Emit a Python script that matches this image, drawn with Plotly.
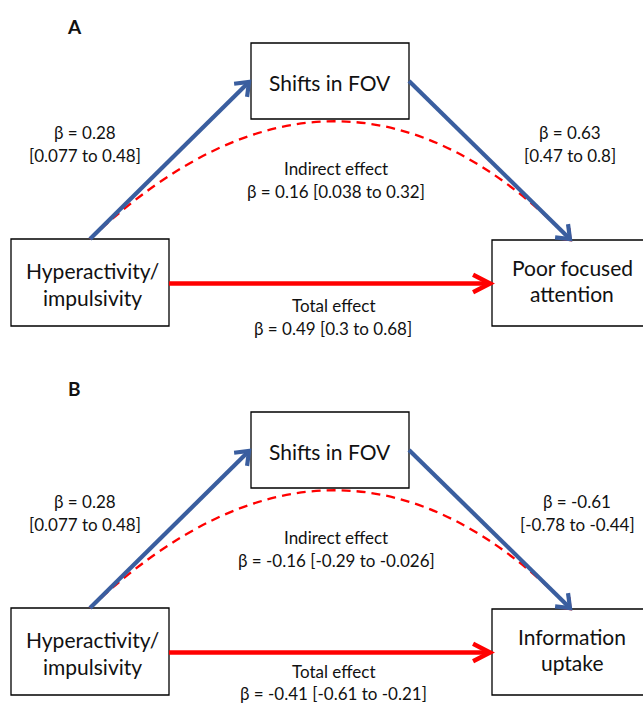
import math
import plotly.graph_objects as go

# Mediation estimates for the two models
panels = ["A", "B"]
predictor = ["Hyperactivity/", "impulsivity"]
mediator = ["Shifts in FOV"]
outcomes = [["Poor focused", "attention"], ["Information", "uptake"]]

a_beta = [0.28, 0.28]
a_ci = [(0.077, 0.48), (0.077, 0.48)]
b_beta = [0.63, -0.61]
b_ci = [(0.47, 0.8), (-0.78, -0.44)]
ind_beta = [0.16, -0.16]
ind_ci = [(0.038, 0.32), (-0.29, -0.026)]
tot_beta = [0.49, -0.41]
tot_ci = [(0.3, 0.68), (-0.61, -0.21)]

W, H = 643, 705
BLUE = "#3A5E9F"
RED = "#FF0000"
FONT = "Lato"
TXT = "#111111"

# Diagram geometry (pixel space, y grows downward)
PANEL_DY = [0, 369]
LETTER_Y = [26, 388]
BOX_X = {"pred": (11, 169), "med": (251, 409), "out": (492, 652)}
BOX_Y = {"pred": (239, 326), "med": (43, 119), "out": (240, 326)}
B_LABEL_X = [570, 577]


def fmt(v):
    return f"{v:g}"


shapes = []
annotations = []


def text(x, y, s, size=17, bold=False):
    annotations.append(dict(
        x=x, y=y, xref="x", yref="y", text=f"<b>{s}</b>" if bold else s,
        showarrow=False, xanchor="center", yanchor="middle",
        font=dict(family=FONT, size=size, color=TXT)))


def box(x0, x1, y0, y1):
    shapes.append(dict(type="rect", xref="x", yref="y", x0=x0, x1=x1, y0=y0, y1=y1,
                       line=dict(color="#000000", width=1.3), fillcolor="white", layer="below"))


def line(x0, y0, x1, y1, color, width, dash="solid"):
    shapes.append(dict(type="line", xref="x", yref="y", x0=x0, y0=y0, x1=x1, y1=y1,
                       line=dict(color=color, width=width, dash=dash)))


def chevron(tx, ty, ang, length, half, color, width):
    # open arrowhead whose tip sits at (tx, ty), pointing along angle ang
    pts = []
    for s in (-1, 1):
        a = ang + math.pi + s * half
        pts.append((tx + length * math.cos(a), ty + length * math.sin(a)))
    path = f"M{pts[0][0]:.2f},{pts[0][1]:.2f} L{tx:.2f},{ty:.2f} L{pts[1][0]:.2f},{pts[1][1]:.2f}"
    shapes.append(dict(type="path", xref="x", yref="y", path=path,
                       line=dict(color=color, width=width)))


def arrow(x0, y0, x1, y1, color, width, length, half):
    ang = math.atan2(y1 - y0, x1 - x0)
    line(x0, y0, x1 - 1.5 * math.cos(ang), y1 - 1.5 * math.sin(ang), color, width)
    chevron(x1, y1, ang, length, half, color, width)


for i, p in enumerate(panels):
    dy = PANEL_DY[i]
    px0, px1 = BOX_X["pred"]
    mx0, mx1 = BOX_X["med"]
    ox0, ox1 = BOX_X["out"]
    py0, py1 = [v + dy for v in BOX_Y["pred"]]
    my0, my1 = [v + dy for v in BOX_Y["med"]]
    oy0, oy1 = [v + dy for v in BOX_Y["out"]]
    pcx, mcx, ocx = (px0 + px1) / 2, (mx0 + mx1) / 2, (ox0 + ox1) / 2
    pcy, mcy, ocy = (py0 + py1) / 2, (my0 + my1) / 2, (oy0 + oy1) / 2

    box(px0, px1, py0, py1)
    box(mx0, mx1, my0, my1)
    box(ox0, ox1, oy0, oy1)

    # indirect path (dashed curve from predictor to outcome)
    sx, sy = pcx, py0
    ex, ey = ocx - 1.5, oy0
    cx, cy = 340, 3 + dy
    shapes.append(dict(type="path", xref="x", yref="y",
                       path=f"M{sx},{sy} Q{cx},{cy} {ex},{ey}",
                       line=dict(color=RED, width=2.3, dash="9px,6px")))
    chevron(ex, ey, math.atan2(ey - cy, ex - cx), 12, math.radians(38), RED, 2.4)

    # a path and b path
    arrow(pcx, py0, mx0 - 2, mcy + 1, BLUE, 4.2, 15, math.radians(38))
    arrow(mx1, mcy, ocx - 2, oy0 - 1, BLUE, 4.2, 15, math.radians(38))

    # total effect
    arrow(px1, pcy + 1, ox0 - 2, pcy + 1, RED, 4.5, 19, math.radians(27))

    # node labels
    text(92, 270 + dy, predictor[0], 21)
    text(92, 297 + dy, predictor[1], 21)
    text(mcx, 82 + dy, mediator[0], 21)
    text(572, 267 + dy, outcomes[i][0], 21)
    text(572, 293 + dy, outcomes[i][1], 21)

    # path estimates
    text(85, 132 + dy, f"β = {fmt(a_beta[i])}")
    text(85, 155 + dy, f"[{fmt(a_ci[i][0])} to {fmt(a_ci[i][1])}]")
    text(B_LABEL_X[i], 132 + dy, f"β = {fmt(b_beta[i])}")
    text(B_LABEL_X[i], 155 + dy, f"[{fmt(b_ci[i][0])} to {fmt(b_ci[i][1])}]")
    text(336, 168 + dy, "Indirect effect")
    text(336, 191 + dy, f"β = {fmt(ind_beta[i])} [{fmt(ind_ci[i][0])} to {fmt(ind_ci[i][1])}]")
    text(333, min(305 + dy, H - 34), "Total effect")
    text(333, min(328 + dy, H - 12), f"β = {fmt(tot_beta[i])} [{fmt(tot_ci[i][0])} to {fmt(tot_ci[i][1])}]")

    text(74, LETTER_Y[i], p, 19, bold=True)

fig = go.Figure()
fig.update_layout(
    width=W, height=H,
    margin=dict(l=0, r=0, t=0, b=0),
    paper_bgcolor="white", plot_bgcolor="white",
    xaxis=dict(range=[0, W], visible=False, fixedrange=True),
    yaxis=dict(range=[H, 0], visible=False, fixedrange=True),
    shapes=shapes, annotations=annotations,
    showlegend=False,
)
fig.write_html("out.html", config={"displayModeBar": False})
